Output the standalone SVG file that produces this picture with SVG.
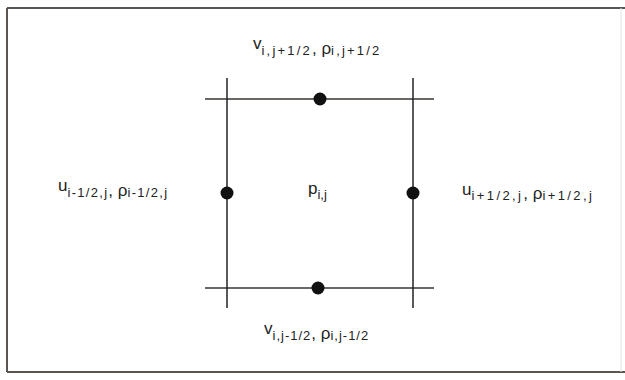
<svg xmlns="http://www.w3.org/2000/svg" width="625" height="380" viewBox="0 0 625 380">
<style>
.frame{fill:none;stroke:#5a5550;stroke-width:2}
.grid{stroke:#222;stroke-width:1.5}
.hgrid{stroke:#3a3430;stroke-width:1.6}
.dot{fill:#111}
.lbl{font-family:"Liberation Sans",Arial,sans-serif;font-size:17px;fill:#222}
.sub{font-size:13px}
</style>
<rect width="625" height="380" fill="#fff"/>
<g id="frame">
<line x1="7" y1="8" x2="625" y2="8" class="frame"/>
<line x1="7" y1="8" x2="7" y2="372" class="frame"/>
<line x1="7" y1="372" x2="625" y2="372" class="frame"/>
<line x1="621" y1="8" x2="621" y2="372" stroke="#e2e2e2" stroke-width="1"/>
</g>
<g id="connectors">
<line x1="205" y1="99" x2="434" y2="99" class="hgrid"/>
<line x1="205" y1="288" x2="434" y2="288" class="hgrid"/>
<line x1="227" y1="78" x2="227" y2="308" class="grid"/>
<line x1="413" y1="78" x2="413" y2="308" class="grid"/>
</g>
<g id="node-top">
<circle cx="320" cy="99" r="6.5" class="dot"/>
<text class="lbl" x="253" y="49">v<tspan class="sub" dy="6" letter-spacing="2.2">i,j+1/2</tspan><tspan dy="-1">, ρ</tspan><tspan class="sub" dy="1" letter-spacing="2.2">i,j+1/2</tspan></text>
</g>
<g id="node-bottom">
<circle cx="318" cy="288" r="6.5" class="dot"/>
<text class="lbl" x="264" y="334">v<tspan class="sub" dy="6" letter-spacing="1">i,j-1/2</tspan><tspan dy="-1">, ρ</tspan><tspan class="sub" dy="1" letter-spacing="1">i,j-1/2</tspan></text>
</g>
<g id="node-left">
<circle cx="227" cy="193" r="6.5" class="dot"/>
<text class="lbl" x="58" y="191">u<tspan class="sub" dy="6" letter-spacing="1.3">i-1/2,j</tspan><tspan dy="-1">, ρ</tspan><tspan class="sub" dy="1" letter-spacing="1.3">i-1/2,j</tspan></text>
</g>
<g id="node-right">
<circle cx="413" cy="193" r="6.5" class="dot"/>
<text class="lbl" x="462" y="195">u<tspan class="sub" dy="5" letter-spacing="2.4">i+1/2,j</tspan><tspan dy="-1">, ρ</tspan><tspan class="sub" dy="1" letter-spacing="2.4">i+1/2,j</tspan></text>
</g>
<g id="node-center">
<text class="lbl" x="308" y="194" font-size="18">p<tspan class="sub" dy="5">i,j</tspan></text>
</g>
</svg>
